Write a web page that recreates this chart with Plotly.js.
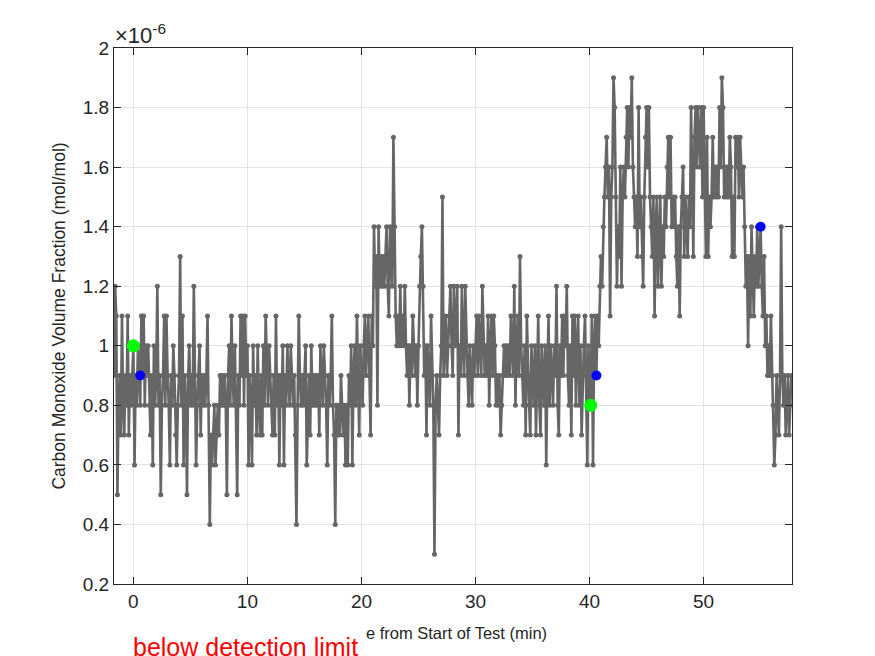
<!DOCTYPE html>
<html>
<head>
<meta charset="utf-8">
<script src="https://cdn.plot.ly/plotly-3.0.1.min.js"></script>
<style>html,body{margin:0;padding:0;background:#fff;}#chart{width:875px;height:656px;}</style>
</head>
<body>
<div id="chart"></div>
<script>
// Sampling of the CO record: start time (min) and step (min)
const tStart = -1.7;
const tStep = 0.1;
// CO volume fraction in units of 1e-7 mol/mol
const coTenths = [
  9,12,11,5,8,9,7,
  11,8,7,9,8,11,7,9,8,9,
  10,6,9,8,10,9,8,11,9,11,
  8,10,9,10,8,7,9,6,10,8,
  9,12,8,9,5,8,9,11,8,11,
  9,8,6,9,8,10,9,7,6,8,
  9,13,8,11,6,9,8,5,9,10,
  8,9,8,12,9,6,8,9,10,7,
  9,8,9,8,9,11,8,4,7,6,
  7,8,6,7,8,7,9,8,9,8,
  9,8,5,9,10,8,11,9,8,10,
  8,5,9,8,11,9,11,8,11,9,
  10,6,9,8,6,10,8,9,7,10,
  8,7,9,7,10,8,11,9,8,10,
  9,8,7,9,7,11,8,9,6,9,
  8,10,6,9,8,10,9,8,10,9,
  8,9,7,4,8,11,9,8,9,8,
  9,10,6,8,9,7,10,8,9,8,
  9,8,9,7,10,9,8,10,9,8,
  6,9,8,9,11,8,7,4,8,7,
  8,7,9,8,7,8,6,8,6,9,
  8,10,6,9,10,8,11,9,7,10,
  9,8,10,11,9,10,11,9,7,11,
  10,14,12,13,8,14,12,13,12,13,
  12,13,14,12,11,14,13,12,17,14,
  11,10,11,10,12,10,11,10,12,10,
  9,10,8,10,9,11,10,9,10,8,
  10,12,13,14,12,9,10,7,10,9,
  8,11,9,8,3,8,9,8,7,9,
  10,15,9,10,11,9,10,11,12,10,
  9,12,10,11,12,7,10,9,12,10,
  9,12,10,9,8,10,9,8,10,9,
  10,11,9,11,10,9,12,10,9,10,
  9,11,8,10,11,9,11,10,8,9,
  8,9,7,8,9,10,9,10,9,10,
  9,11,10,9,12,8,10,11,9,13,
  10,9,8,10,7,11,9,8,7,10,
  9,8,10,7,9,11,8,7,10,9,
  8,10,6,9,11,8,10,9,8,10,
  9,12,8,7,10,9,11,9,11,10,
  12,9,8,10,7,11,9,11,8,10,
  11,8,10,7,9,10,11,9,6,10,
  9,8,11,6,10,11,9,11,10,12,
  13,12,14,15,16,17,15,16,11,15,
  16,19,18,15,12,14,13,16,12,15,
  16,15,17,18,16,18,17,19,16,15,
  14,15,13,18,14,15,13,12,15,17,
  18,16,18,15,14,13,15,11,14,15,
  12,14,15,12,14,13,15,14,16,17,
  15,17,14,15,14,15,13,12,14,11,
  14,15,16,13,15,14,13,15,14,18,
  16,13,17,18,16,18,17,16,18,15,
  18,16,13,17,13,15,14,15,17,15,
  16,15,16,15,18,16,19,18,15,16,
  15,16,15,17,16,13,15,13,17,16,
  17,15,17,16,15,16,14,12,13,10,
  13,11,14,12,11,13,12,14,12,13,
  14,12,11,13,10,11,9,10,9,11,
  9,8,6,7,9,8,7,9,14,9,
  8,9,7,8,9,7,8,9
];
// Highlighted points (time in min, value in 1e-7 mol/mol)
const greenT = [0, 40.1];
const greenV = [10, 8];
const blueT = [0.6, 40.6, 55.0];
const blueV = [9, 9, 14];
// Axis ticks
const xTicks = [0, 10, 20, 30, 40, 50];
const yTickVals = [2, 4, 6, 8, 10, 12, 14, 16, 18, 20];
const yTickText = ['0.2', '0.4', '0.6', '0.8', '1', '1.2', '1.4', '1.6', '1.8', '2'];

const scale = 1e-7;
const t = coTenths.map((v, i) => tStart + i * tStep);
const y = coTenths.map(v => v * scale);

const font = 'Liberation Sans, Arial, Helvetica, sans-serif';
const ink = '#262626';

const traces = [
  {x: t, y: y, type: 'scatter', mode: 'lines+markers',
   line: {color: '#666666', width: 2.6}, marker: {color: '#666666', size: 5},
   hoverinfo: 'skip', showlegend: false},
  {x: greenT, y: greenV.map(v => v * scale), type: 'scatter', mode: 'markers',
   marker: {color: '#00ff00', size: 13}, showlegend: false},
  {x: blueT, y: blueV.map(v => v * scale), type: 'scatter', mode: 'markers',
   marker: {color: '#0000ff', size: 10}, showlegend: false}
];

const layout = {
  width: 875, height: 656,
  margin: {l: 114, r: 83, t: 48, b: 72},
  paper_bgcolor: '#ffffff', plot_bgcolor: '#ffffff',
  font: {family: font, color: ink, size: 19},
  showlegend: false,
  xaxis: {
    range: [-1.7, 57.75], tickvals: xTicks, ticks: 'inside', ticklen: 7, tickcolor: ink,
    showline: true, linecolor: ink, linewidth: 1, mirror: 'ticks',
    showgrid: true, gridcolor: '#e3e3e3', zeroline: false,
    tickfont: {family: font, size: 19, color: ink}
  },
  yaxis: {
    range: [0.2e-6, 2.0e-6], tickvals: yTickVals.map(v => v * scale), ticktext: yTickText,
    ticks: 'inside', ticklen: 7, tickcolor: ink,
    showline: true, linecolor: ink, linewidth: 1, mirror: 'ticks',
    showgrid: true, gridcolor: '#e3e3e3', zeroline: false,
    tickfont: {family: font, size: 19, color: ink},
    title: {text: 'Carbon Monoxide Volume Fraction (mol/mol)', font: {family: font, size: 17.5, color: ink}, standoff: 12}
  },
  annotations: [
    {xref: 'paper', yref: 'paper', x: 0, y: 1, xanchor: 'left', yanchor: 'bottom', xshift: -1, yshift: -2,
     text: '×10<sup>-6</sup>', showarrow: false, font: {family: font, size: 22, color: ink}},
    {xref: 'paper', yref: 'paper', x: 0.4838, y: -0.0914, xanchor: 'center', yanchor: 'middle', xshift: 1,
     text: 'Time from Start of Test (min)', showarrow: false,
     font: {family: font, size: 16.5, color: ink}},
    {xref: 'x', yref: 'paper', x: 0, y: -0.0709, xanchor: 'left', yanchor: 'top', xshift: -3,
     width: 230, height: 36, align: 'left', valign: 'bottom',
     text: 'below detection limit', showarrow: false, bgcolor: '#ffffff', borderpad: 2,
     font: {family: font, size: 25, color: '#ff0000'}}
  ]
};

Plotly.newPlot('chart', traces, layout, {displayModeBar: false, staticPlot: true});
</script>
</body>
</html>
